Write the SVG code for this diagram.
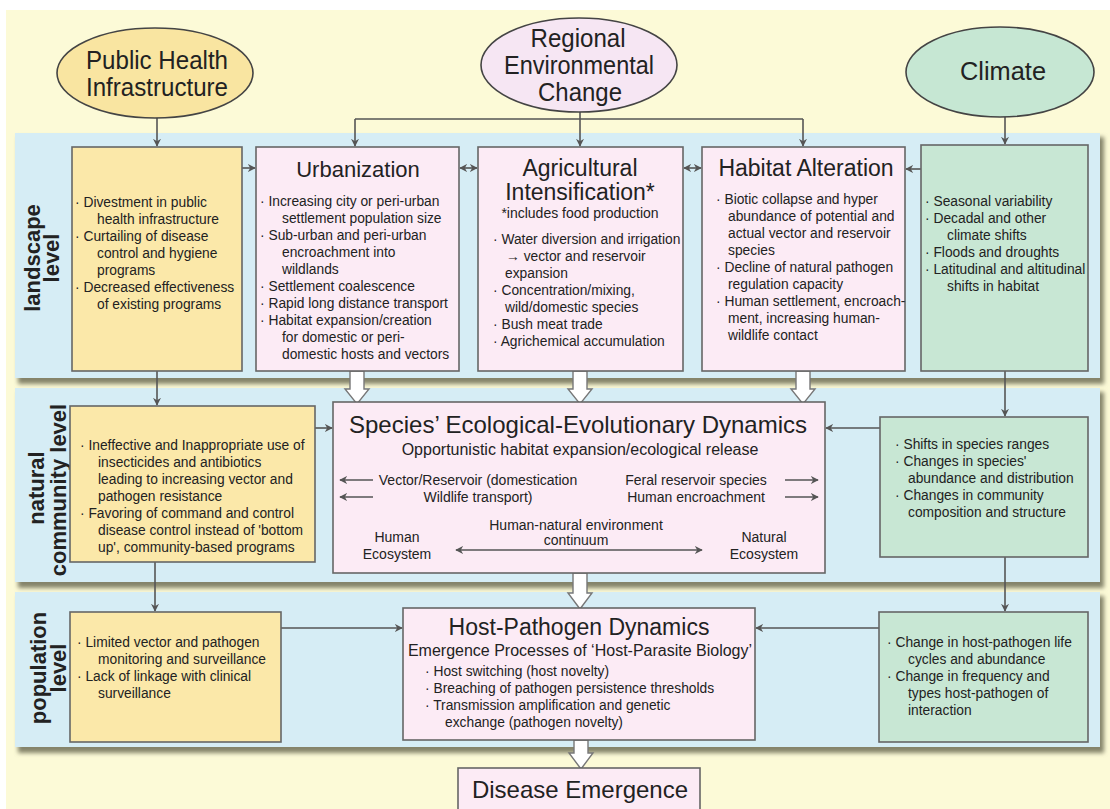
<svg xmlns="http://www.w3.org/2000/svg" width="1110" height="809" viewBox="0 0 1110 809">
<defs>
<style>
text{font-family:"Liberation Sans",Arial,sans-serif;fill:#222}
.b{font-size:13.8px}
.t{font-size:23px}
.s{font-size:16px}
.m{font-size:14px}
.c{text-anchor:middle}
.ov{font-size:26px;text-anchor:middle}
.lvl{font-size:22px;font-weight:bold;text-anchor:middle}
.band{fill:#d6edf5}
.bsh{fill:#85846a;filter:url(#blur)}
.yel{fill:#fbe8a9;stroke:#666;stroke-width:1.6}
.pnk{fill:#fcebf5;stroke:#666;stroke-width:1.6}
.grn{fill:#c8e7d4;stroke:#666;stroke-width:1.6}
.ovl{stroke:#444;stroke-width:1.6}
.ln{fill:none;stroke:#555;stroke-width:1.6}
.arr{fill:none;stroke:#555;stroke-width:1.6;marker-end:url(#ah)}
.dbl{fill:none;stroke:#555;stroke-width:1.6;marker-end:url(#ah);marker-start:url(#ahs)}
.hol{fill:#fff;stroke:#777;stroke-width:1.4}
</style>
<filter id="blur" x="-5%" y="-20%" width="110%" height="140%"><feGaussianBlur stdDeviation="2"/></filter>
<marker id="ah" viewBox="0 0 10 10" refX="9" refY="5" markerWidth="8" markerHeight="8" markerUnits="userSpaceOnUse" orient="auto"><path d="M0,0 L10,5 L0,10 L3,5 z" fill="#555"/></marker>
<marker id="ahs" viewBox="0 0 10 10" refX="1" refY="5" markerWidth="8" markerHeight="8" markerUnits="userSpaceOnUse" orient="auto"><path d="M10,0 L0,5 L10,10 L7,5 z" fill="#555"/></marker>
</defs>

<rect x="0" y="0" width="1110" height="809" fill="#ffffff"/>
<rect x="6" y="10" width="1104" height="799" fill="#fcfad7"/>

<g id="bands">
<rect class="bsh" x="18" y="137" width="1086" height="247"/>
<rect class="band" x="15" y="133" width="1085" height="245"/>
<rect class="bsh" x="18" y="392" width="1086" height="196"/>
<rect class="band" x="15" y="388" width="1085" height="194"/>
<rect class="bsh" x="18" y="596" width="1086" height="157"/>
<rect class="band" x="15" y="592" width="1085" height="155"/>
<text class="lvl" transform="translate(40,258) rotate(-90)">landscape</text>
<text class="lvl" transform="translate(59,258) rotate(-90)">level</text>
<text class="lvl" transform="translate(44,488) rotate(-90)">natural</text>
<text class="lvl" transform="translate(66,490) rotate(-90)">community level</text>
<text class="lvl" transform="translate(46,668) rotate(-90)">population</text>
<text class="lvl" transform="translate(66,668) rotate(-90)">level</text>
</g>

<g id="connectors">
<line class="arr" x1="157" y1="118" x2="157" y2="146"/>
<line class="ln" x1="580" y1="112" x2="580" y2="119"/>
<line class="ln" x1="355" y1="119" x2="803" y2="119"/>
<line class="arr" x1="355" y1="119" x2="355" y2="146"/>
<line class="arr" x1="580" y1="119" x2="580" y2="146"/>
<line class="arr" x1="803" y1="119" x2="803" y2="146"/>
<line class="arr" x1="1005" y1="117" x2="1005" y2="144"/>
<line class="arr" x1="242" y1="168" x2="255" y2="168"/>
<line class="dbl" x1="460" y1="168" x2="477" y2="168"/>
<line class="dbl" x1="684" y1="168" x2="701" y2="168"/>
<line class="arr" x1="921" y1="169" x2="906" y2="169"/>
<line class="arr" x1="157" y1="371" x2="157" y2="405"/>
<line class="arr" x1="1005" y1="371" x2="1005" y2="416"/>
<line class="arr" x1="315" y1="428" x2="332" y2="428"/>
<line class="arr" x1="880" y1="428" x2="826" y2="428"/>
<line class="arr" x1="155" y1="562" x2="155" y2="611"/>
<line class="arr" x1="1005" y1="557" x2="1005" y2="611"/>
<line class="arr" x1="281" y1="628" x2="402" y2="628"/>
<line class="arr" x1="879" y1="628" x2="756" y2="628"/>
<polygon class="hol" points="350,371 350,389 345,389 357,404 369,389 364,389 364,371"/>
<polygon class="hol" points="573,371 573,389 568,389 580,404 592,389 587,389 587,371"/>
<polygon class="hol" points="796,371 796,389 791,389 803,404 815,389 810,389 810,371"/>
<polygon class="hol" points="573,573 573,593 568,593 580,609 592,593 587,593 587,573"/>
<polygon class="hol" points="574,740 574,753 569,753 581,769 593,753 588,753 588,740"/>
</g>

<g id="public-health">
<ellipse class="ovl" cx="155" cy="73" rx="98" ry="45" fill="#f9e5a1"/>
<text class="ov" x="157" y="69" textLength="142" lengthAdjust="spacingAndGlyphs">Public Health</text>
<text class="ov" x="157" y="96" textLength="142" lengthAdjust="spacingAndGlyphs">Infrastructure</text>
</g>
<g id="regional">
<ellipse class="ovl" cx="579" cy="65" rx="98" ry="47" fill="#f6e6f3"/>
<text class="ov" x="578" y="47" textLength="95" lengthAdjust="spacingAndGlyphs">Regional</text>
<text class="ov" x="579" y="74" textLength="150" lengthAdjust="spacingAndGlyphs">Environmental</text>
<text class="ov" x="580" y="101" textLength="84" lengthAdjust="spacingAndGlyphs">Change</text>
</g>
<g id="climate">
<ellipse class="ovl" cx="1000" cy="72" rx="94" ry="45" fill="#c6e7d3"/>
<text class="ov" x="1003" y="80" textLength="86" lengthAdjust="spacingAndGlyphs">Climate</text>
</g>

<g id="ph-landscape">
<rect class="yel" x="72" y="147" width="170" height="224"/>
<text class="b" x="75" y="207">· Divestment in public</text>
<text class="b" x="97" y="224">health  infrastructure</text>
<text class="b" x="75" y="241">· Curtailing of disease</text>
<text class="b" x="97" y="258">control and hygiene</text>
<text class="b" x="97" y="275">programs</text>
<text class="b" x="75" y="292">· Decreased effectiveness</text>
<text class="b" x="97" y="309">of existing programs</text>
</g>

<g id="urbanization">
<rect class="pnk" x="256" y="147" width="203" height="224"/>
<text class="c" x="358" y="177" style="font-size:22px">Urbanization</text>
<text class="b" x="260" y="206">· Increasing city or peri-urban</text>
<text class="b" x="282" y="223">settlement population size</text>
<text class="b" x="260" y="240">· Sub-urban and peri-urban</text>
<text class="b" x="282" y="257">encroachment into</text>
<text class="b" x="282" y="274">wildlands</text>
<text class="b" x="260" y="291">· Settlement coalescence</text>
<text class="b" x="260" y="308">· Rapid long distance transport</text>
<text class="b" x="260" y="325">· Habitat expansion/creation</text>
<text class="b" x="282" y="342">for domestic or peri-</text>
<text class="b" x="282" y="359">domestic hosts and vectors</text>
</g>

<g id="agricultural">
<rect class="pnk" x="478" y="147" width="205" height="224"/>
<text class="t c" x="580" y="176">Agricultural</text>
<text class="t c" x="580" y="200">Intensification*</text>
<text class="m c" x="580" y="218">*includes food production</text>
<text class="b" x="493" y="244">· Water diversion and irrigation</text>
<text class="b" x="506" y="261">→ vector and reservoir</text>
<text class="b" x="505" y="278">expansion</text>
<text class="b" x="493" y="295">· Concentration/mixing,</text>
<text class="b" x="505" y="312">wild/domestic species</text>
<text class="b" x="493" y="329">· Bush meat trade</text>
<text class="b" x="493" y="346">· Agrichemical accumulation</text>
</g>

<g id="habitat">
<rect class="pnk" x="702" y="147" width="203" height="224"/>
<text class="t c" x="806" y="176">Habitat Alteration</text>
<text class="b" x="716" y="204">· Biotic collapse and hyper</text>
<text class="b" x="728" y="221">abundance of potential and</text>
<text class="b" x="728" y="238">actual vector and reservoir</text>
<text class="b" x="728" y="255">species</text>
<text class="b" x="716" y="272">· Decline of natural pathogen</text>
<text class="b" x="728" y="289">regulation capacity</text>
<text class="b" x="716" y="306">· Human settlement, encroach-</text>
<text class="b" x="728" y="323">ment, increasing human-</text>
<text class="b" x="728" y="340">wildlife contact</text>
</g>

<g id="climate-landscape">
<rect class="grn" x="921" y="145" width="167" height="226"/>
<text class="b" x="925" y="206">· Seasonal variability</text>
<text class="b" x="925" y="223">· Decadal and other</text>
<text class="b" x="947" y="240">climate shifts</text>
<text class="b" x="925" y="257">· Floods and droughts</text>
<text class="b" x="925" y="274">· Latitudinal and altitudinal</text>
<text class="b" x="947" y="291">shifts in habitat</text>
</g>

<g id="ph-community">
<rect class="yel" x="70" y="406" width="245" height="156"/>
<text class="b" x="80" y="450">· Ineffective and Inappropriate use of</text>
<text class="b" x="98" y="467">insecticides and antibiotics</text>
<text class="b" x="98" y="484">leading to increasing vector and</text>
<text class="b" x="98" y="501">pathogen resistance</text>
<text class="b" x="80" y="518">· Favoring of command and control</text>
<text class="b" x="98" y="535">disease control instead of 'bottom</text>
<text class="b" x="98" y="552">up', community-based programs</text>
</g>

<g id="species">
<rect class="pnk" x="333" y="402" width="492" height="171"/>
<text class="c" x="578" y="433" style="font-size:24px">Species’ Ecological-Evolutionary Dynamics</text>
<text class="s c" x="580" y="455">Opportunistic habitat expansion/ecological release</text>
<text class="m c" x="478" y="485">Vector/Reservoir (domestication</text>
<text class="m c" x="478" y="502">Wildlife transport)</text>
<text class="m c" x="696" y="485">Feral reservoir species</text>
<text class="m c" x="696" y="502">Human encroachment</text>
<line class="arr" x1="373" y1="480" x2="340" y2="480"/>
<line class="arr" x1="373" y1="497" x2="340" y2="497"/>
<line class="arr" x1="785" y1="480" x2="818" y2="480"/>
<line class="arr" x1="785" y1="497" x2="818" y2="497"/>
<text class="m c" x="576" y="530">Human-natural environment</text>
<text class="m c" x="576" y="545">continuum</text>
<line class="dbl" x1="456" y1="550" x2="702" y2="550"/>
<text class="m c" x="397" y="542">Human</text>
<text class="m c" x="397" y="559">Ecosystem</text>
<text class="m c" x="764" y="542">Natural</text>
<text class="m c" x="764" y="559">Ecosystem</text>
</g>

<g id="climate-community">
<rect class="grn" x="880" y="417" width="208" height="140"/>
<text class="b" x="895" y="449">· Shifts in species ranges</text>
<text class="b" x="895" y="466">· Changes in species'</text>
<text class="b" x="908" y="483">abundance and distribution</text>
<text class="b" x="895" y="500">· Changes in community</text>
<text class="b" x="908" y="517">composition and structure</text>
</g>

<g id="ph-population">
<rect class="yel" x="70" y="612" width="211" height="130"/>
<text class="b" x="77" y="647">· Limited vector and pathogen</text>
<text class="b" x="98" y="664">monitoring and surveillance</text>
<text class="b" x="77" y="681">· Lack of linkage with clinical</text>
<text class="b" x="98" y="698">surveillance</text>
</g>

<g id="host-pathogen">
<rect class="pnk" x="403" y="608" width="352" height="132"/>
<text class="t c" x="579" y="635">Host-Pathogen Dynamics</text>
<text class="s c" x="580" y="656">Emergence Processes of ‘Host-Parasite Biology’</text>
<text class="b" x="425" y="676">· Host switching (host novelty)</text>
<text class="b" x="425" y="693">· Breaching of pathogen persistence thresholds</text>
<text class="b" x="425" y="710">· Transmission amplification and genetic</text>
<text class="b" x="445" y="727">exchange (pathogen novelty)</text>
</g>

<g id="climate-population">
<rect class="grn" x="879" y="612" width="209" height="130"/>
<text class="b" x="887" y="647">· Change in host-pathogen life</text>
<text class="b" x="908" y="664">cycles and abundance</text>
<text class="b" x="887" y="681">· Change in frequency and</text>
<text class="b" x="908" y="698">types host-pathogen of</text>
<text class="b" x="908" y="715">interaction</text>
</g>

<g id="disease-emergence">
<rect class="pnk" x="458" y="768" width="242" height="50"/>
<text class="c" x="580" y="798" style="font-size:24px">Disease Emergence</text>
</g>
</svg>
